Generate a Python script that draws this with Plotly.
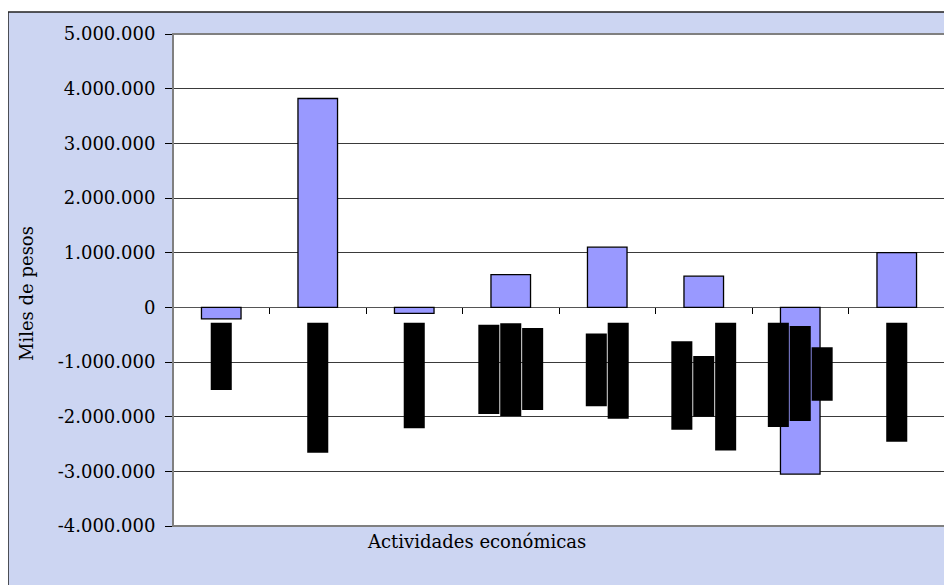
import plotly.graph_objects as go

# ---- data (values in pesos, thousands) ----
categories = ["Act. 1", "Act. 2", "Act. 3", "Act. 4", "Act. 5", "Act. 6", "Act. 7", "Act. 8"]
values = [-210000, 3820000, -110000, 600000, 1100000, 570000, -3050000, 1000000]

# dark category-label blocks (top, bottom) per category, one pair per label line
label_tops = [[-280000], [-280000], [-280000],
              [-320000, -290000, -380000],
              [-480000, -280000],
              [-620000, -890000, -280000],
              [-280000, -340000, -730000],
              [-280000]]
label_bottoms = [[-1510000], [-2660000], [-2210000],
                 [-1950000, -1990000, -1880000],
                 [-1810000, -2040000],
                 [-2240000, -2000000, -2620000],
                 [-2190000, -2080000, -1710000],
                 [-2460000]]

tick_vals = [5000000, 4000000, 3000000, 2000000, 1000000, 0,
             -1000000, -2000000, -3000000, -4000000]
tick_text = ["5.000.000", "4.000.000", "3.000.000", "2.000.000", "1.000.000", "0",
             "-1.000.000", "-2.000.000", "-3.000.000", "-4.000.000"]

x_title = "Actividades económicas"
y_title = "Miles de pesos"

# ---- build label block trace from the arrays ----
LINE_STEP = 0.227
bx, bbase, bh = [], [], []
for i, (tops, bots) in enumerate(zip(label_tops, label_bottoms)):
    n = len(tops)
    for j, (t, b) in enumerate(zip(tops, bots)):
        bx.append(i + (j - (n - 1) / 2) * LINE_STEP)
        bbase.append(t)
        bh.append(b - t)

# page body has an 8px margin; work in screen pixels and shift
OFF = 8
W, H = 952 - OFF, 585 - OFF
L, R, T, B = 173 - OFF, 7, 34 - OFF, 585 - 526
pw, ph = W - L - R, H - T - B

def px_x(p):
    return (p - OFF - L) / pw

def px_y(p):
    return (H - B - (p - OFF)) / ph

fig = go.Figure()
fig.add_trace(go.Bar(
    x=list(range(len(categories))), y=values, width=0.41,
    marker=dict(color="#9999FF", line=dict(color="black", width=1.3)),
    hovertext=categories, name="", showlegend=False,
))
fig.add_trace(go.Bar(
    x=bx, y=bh, base=bbase, width=0.218,
    marker=dict(color="black", line=dict(width=0)),
    showlegend=False, hoverinfo="skip",
))

SERIF = "DejaVu Serif, Liberation Serif, serif"

fig.update_layout(
    width=W, height=H,
    margin=dict(l=L, r=R, t=T, b=B, pad=0),
    barmode="overlay",
    paper_bgcolor="white",
    plot_bgcolor="white",
    font=dict(family=SERIF, color="black", size=18),
    showlegend=False,
    xaxis=dict(
        range=[-0.5, len(categories) - 0.5],
        tickvals=[k + 0.5 for k in range(len(categories) - 1)],
        showticklabels=False, ticks="outside", ticklen=6, tickcolor="black",
        showgrid=False, zeroline=False, showline=False,
        anchor="free", position=px_y(307.3), fixedrange=True,
    ),
    yaxis=dict(
        range=[-4000000, 5000000],
        tickvals=tick_vals, ticktext=tick_text,
        ticks="outside", ticklen=7, tickcolor="black",
        ticklabelstandoff=6,
        tickfont=dict(family=SERIF, size=18, color="black"),
        showgrid=True, gridcolor="#3a3a3a", gridwidth=1,
        zeroline=True, zerolinecolor="#555555", zerolinewidth=1,
        showline=True, linecolor="black", linewidth=1,
        fixedrange=True,
    ),
    shapes=[
        # outer chart frame with background
        dict(type="rect", xref="paper", yref="paper", layer="below",
             x0=px_x(8), x1=px_x(970), y0=px_y(600), y1=px_y(12),
             fillcolor="#CCD5F2", line=dict(color="#222222", width=1.5)),
        # white plot area
        dict(type="rect", xref="paper", yref="paper", layer="below",
             x0=0, x1=1, y0=0, y1=1,
             fillcolor="white", line=dict(width=0)),
        # plot area border
        dict(type="rect", xref="paper", yref="paper", layer="above",
             x0=0, x1=1, y0=0, y1=1,
             line=dict(color="#808080", width=2)),
    ],
    annotations=[
        dict(text=y_title, xref="paper", yref="paper",
             x=px_x(26.5), y=px_y(293.5), textangle=-90,
             showarrow=False, font=dict(family=SERIF, size=18, color="black"),
             xanchor="center", yanchor="middle"),
        dict(text=x_title, xref="paper", yref="paper",
             x=px_x(476.5), y=px_y(541), showarrow=False,
             font=dict(family=SERIF, size=18, color="black"),
             xanchor="center", yanchor="middle"),
    ],
)

fig.write_html("out.html")
